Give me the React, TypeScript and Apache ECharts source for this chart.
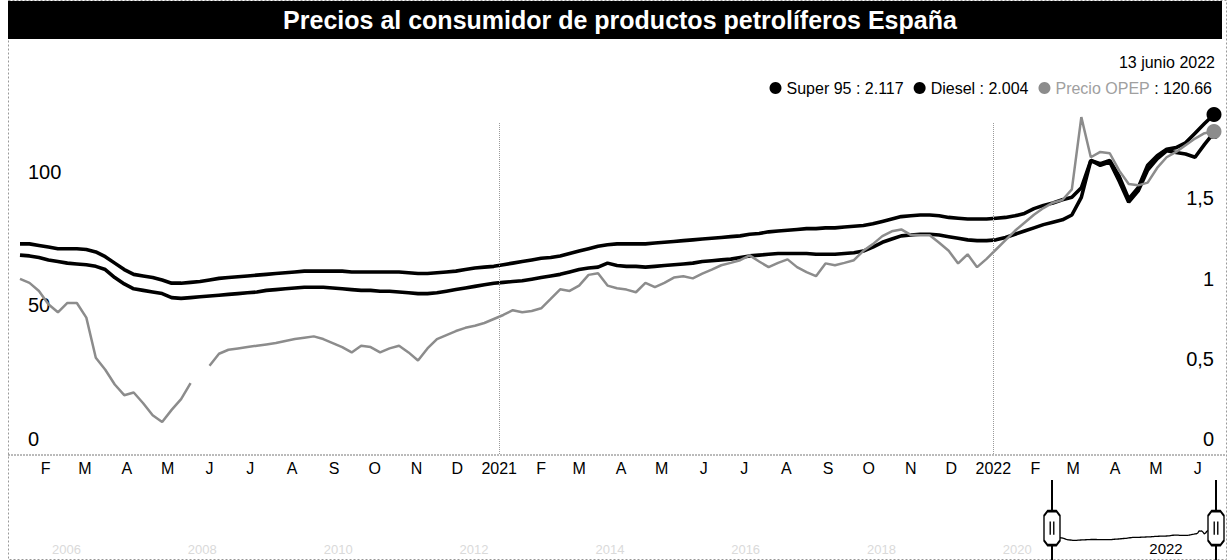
import React, { useEffect, useRef } from 'react';
import * as echarts from 'echarts';

// ---------- data ----------
const TITLE = 'Precios al consumidor de productos petrolíferos España';
const FIRST_WEEK = '2020-01-13'; // weekly observations (Mondays)
const NAVIGATOR_START = '2004-11-02';
const YEAR_MARKS = ['2021-01-01', '2022-01-01'];
const MONTH_INITIALS = ['E', 'F', 'M', 'A', 'M', 'J', 'J', 'A', 'S', 'O', 'N', 'D'];
const MESES = ['enero', 'febrero', 'marzo', 'abril', 'mayo', 'junio', 'julio', 'agosto', 'septiembre', 'octubre', 'noviembre', 'diciembre'];

const super95: number[] = [
  1.31, 1.31, 1.30, 1.29, 1.28, 1.28, 1.28, 1.275, 1.26, 1.23,
  1.19, 1.15, 1.12, 1.11, 1.10, 1.085, 1.065, 1.065, 1.07, 1.075,
  1.085, 1.095, 1.10, 1.105, 1.11, 1.115, 1.12, 1.125, 1.13, 1.135,
  1.14, 1.14, 1.14, 1.14, 1.14, 1.135, 1.135, 1.135, 1.135, 1.135,
  1.135, 1.13, 1.125, 1.125, 1.13, 1.135, 1.14, 1.15, 1.16, 1.165,
  1.17, 1.18, 1.19, 1.20, 1.21, 1.22, 1.225, 1.235, 1.25, 1.265,
  1.28, 1.295, 1.305, 1.31, 1.31, 1.31, 1.31, 1.315, 1.32, 1.325,
  1.33, 1.335, 1.34, 1.345, 1.35, 1.355, 1.36, 1.37, 1.375, 1.385,
  1.39, 1.395, 1.40, 1.405, 1.405, 1.41, 1.41, 1.415, 1.42, 1.425,
  1.435, 1.45, 1.465, 1.48, 1.485, 1.49, 1.49, 1.485, 1.475, 1.47,
  1.465, 1.465, 1.465, 1.47, 1.475, 1.485, 1.50, 1.53, 1.55, 1.565,
  1.585, 1.60, 1.66, 1.83, 1.81, 1.83, 1.73, 1.59, 1.66, 1.80,
  1.86, 1.90, 1.91, 1.94, 2.00, 2.06, 2.117,
];

const diesel: number[] = [
  1.24, 1.235, 1.225, 1.21, 1.20, 1.19, 1.185, 1.18, 1.17, 1.15,
  1.10, 1.06, 1.03, 1.02, 1.01, 1.00, 0.975, 0.97, 0.975, 0.98,
  0.985, 0.99, 0.995, 1.00, 1.005, 1.01, 1.02, 1.025, 1.03, 1.035,
  1.04, 1.04, 1.04, 1.035, 1.03, 1.025, 1.02, 1.02, 1.015, 1.015,
  1.01, 1.005, 1.00, 1.00, 1.005, 1.015, 1.025, 1.035, 1.045, 1.055,
  1.065, 1.07, 1.075, 1.08, 1.09, 1.10, 1.11, 1.12, 1.135, 1.15,
  1.16, 1.165, 1.19, 1.175, 1.17, 1.17, 1.165, 1.17, 1.175, 1.18,
  1.185, 1.19, 1.20, 1.205, 1.21, 1.215, 1.225, 1.235, 1.24, 1.245,
  1.25, 1.25, 1.25, 1.25, 1.245, 1.245, 1.245, 1.25, 1.255, 1.265,
  1.29, 1.32, 1.34, 1.36, 1.365, 1.37, 1.37, 1.365, 1.355, 1.345,
  1.335, 1.33, 1.33, 1.335, 1.35, 1.37, 1.39, 1.41, 1.43, 1.445,
  1.46, 1.49, 1.60, 1.83, 1.80, 1.82, 1.70, 1.57, 1.64, 1.77,
  1.84, 1.89, 1.88, 1.87, 1.85, 1.93, 2.004,
];

const opep: (number | null)[] = [
  65.5, 64, 61, 56, 53, 56.5, 56.5, 51, 36, 31.5,
  26, 22, 23, 19, 14.5, 12, 16.5, 20.5, 26.5, null,
  33, 37.5, 39, 39.5, 40, 40.5, 41, 41.5, 42.3, 43,
  43.5, 44, 43, 41.5, 40, 38, 40.5, 40, 38, 39.5,
  40.5, 38, 35, 39.5, 43, 44.5, 46, 47.2, 48, 49,
  50.5, 52, 53.8, 53, 53.5, 54.5, 58, 61.6, 61, 63,
  67, 67.6, 63, 62, 61.5, 60.5, 64, 62.4, 64, 66,
  66.5, 65.7, 67.5, 69, 70.6, 71.5, 72.5, 74.3, 72, 69.9,
  71.5, 72.8, 69.9, 68, 66.5, 71.3, 70.6, 71.5, 72.5, 76,
  78.5, 81.5, 83.3, 84, 82, 81.8, 81.8, 79, 76, 71.3,
  74.7, 69.9, 73, 76.5, 80, 83.5, 86.5, 89.5, 92, 94,
  95, 99, 126, 111, 113, 112.5, 106, 101, 100.5, 101.5,
  107, 111, 113, 115.5, 118, 120, 120.66,
];

const leftTicks = { min: 0, max: 150, interval: 50 };
const rightTicks = { min: 0, max: 2.5, interval: 0.5 };

// ---------- derived ----------
const DAY = 86400000;
const t0 = Date.parse(FIRST_WEEK + 'T00:00:00Z');
const weeks = super95.map((_, i) => t0 + i * 7 * DAY);
const last = weeks.length - 1;
const tEnd = weeks[last];
const navStart = Date.parse(NAVIGATOR_START + 'T00:00:00Z');
const endDate = new Date(tEnd);
const dateLabel = `${endDate.getUTCDate()} ${MESES[endDate.getUTCMonth()]} ${endDate.getUTCFullYear()}`;
const FONT = '"Liberation Sans", Arial, Helvetica, sans-serif';

const pairs = (vals: (number | null)[]) => weeks.map((t, i) => [t, vals[i]]);

const legendValues: Record<string, string> = {
  'Super 95': super95[last].toFixed(3),
  Diesel: diesel[last].toFixed(3),
  'Precio OPEP': (opep[last] as number).toFixed(2),
};

const HANDLE = 'path://M4,0 L14,0 L18,5 L18,31 L14,36 L4,36 L0,31 L0,5 Z M7,11 L7,25 M11,11 L11,25';

function buildOption(): any {
  return {
    animation: false,
    useUTC: true,
    textStyle: { fontFamily: FONT },
    legend: {
      right: 12,
      top: 75,
      icon: 'circle',
      itemWidth: 12,
      itemHeight: 12,
      itemGap: 10,
      selectedMode: false,
      data: ['Super 95', 'Diesel', 'Precio OPEP'],
      formatter: (name: string) =>
        name === 'Precio OPEP'
          ? `{g|${name}}{b| : ${legendValues[name]}}`
          : `{b|${name} : ${legendValues[name]}}`,
      textStyle: {
        fontSize: 16,
        color: '#000',
        fontFamily: FONT,
        rich: {
          g: { color: '#a0a0a0', fontSize: 16, fontFamily: FONT },
          b: { color: '#000', fontSize: 16, fontFamily: FONT },
        },
      },
    },
    grid: [
      { left: 20, right: 15, top: 53, bottom: 106 },
      { left: 20, right: 13, top: 480, bottom: 0 },
    ],
    xAxis: [
      {
        type: 'time',
        gridIndex: 0,
        min: t0,
        max: tEnd,
        minInterval: 28 * DAY,
        maxInterval: 31 * DAY,
        axisLine: { show: false },
        axisTick: { show: false },
        splitLine: { show: false },
        axisLabel: {
          color: '#000',
          fontSize: 16,
          fontFamily: FONT,
          margin: 6,
          hideOverlap: false,
          formatter: (v: number) => {
            const d = new Date(v);
            if (d.getUTCDate() !== 1 || d.getUTCHours() !== 0) return '';
            const m = d.getUTCMonth();
            return m === 0 ? String(d.getUTCFullYear()) : MONTH_INITIALS[m];
          },
        },
      },
      {
        type: 'time',
        gridIndex: 1,
        min: navStart,
        max: tEnd,
        minInterval: 730 * DAY,
        maxInterval: 731 * DAY,
        axisLine: { show: false },
        axisTick: { show: false },
        splitLine: { show: false },
        axisLabel: {
          inside: true,
          margin: 4,
          align: 'right',
          formatter: (v: number) => {
            const d = new Date(v);
            if (d.getUTCMonth() !== 0 || d.getUTCDate() !== 1) return '';
            const y = d.getUTCFullYear();
            return v >= t0 ? `{on|${y}}{sp2| }` : `{off|${y}}{sp| }`;
          },
          rich: {
            on: { color: '#000', fontSize: 15, fontFamily: FONT },
            off: { color: '#dadada', fontSize: 13, fontFamily: FONT },
            sp: { width: 18, fontSize: 13 },
            sp2: { width: 3, fontSize: 13 },
          },
        },
      },
    ],
    yAxis: [
      {
        type: 'value',
        gridIndex: 0,
        position: 'left',
        ...leftTicks,
        splitLine: { show: false },
        axisLine: { show: false },
        axisTick: { show: false },
        axisLabel: {
          inside: true,
          margin: 8,
          verticalAlign: 'bottom',
          formatter: (v: number) => (v >= 150 ? '' : `{l|${v}}`),
          rich: { l: { fontSize: 20, color: '#000', fontFamily: FONT, backgroundColor: '#fff', padding: [0, 4, 5, 0] } },
        },
      },
      {
        type: 'value',
        gridIndex: 0,
        position: 'right',
        ...rightTicks,
        splitLine: { show: false },
        axisLine: { show: false },
        axisTick: { show: false },
        axisLabel: {
          inside: true,
          margin: 0,
          verticalAlign: 'bottom',
          formatter: (v: number) => (v >= 2 ? '' : `{l|${String(v).replace('.', ',')}}`),
          rich: { l: { fontSize: 20, color: '#000', fontFamily: FONT, backgroundColor: '#fff', padding: [0, 0, 5, 4] } },
        },
      },
      { type: 'value', gridIndex: 1, min: -0.5, max: 5.9, show: false },
    ],
    series: [
      {
        name: 'Super 95',
        type: 'line',
        xAxisIndex: 0,
        yAxisIndex: 1,
        data: pairs(super95),
        showSymbol: false,
        lineStyle: { color: '#000', width: 3.6 },
        itemStyle: { color: '#000' },
        markPoint: {
          symbol: 'circle',
          symbolSize: 15,
          label: { show: false },
          itemStyle: { color: '#000' },
          data: [{ coord: [tEnd, super95[last]] }],
        },
        z: 3,
      },
      {
        name: 'Diesel',
        type: 'line',
        xAxisIndex: 0,
        yAxisIndex: 1,
        data: pairs(diesel),
        showSymbol: false,
        lineStyle: { color: '#000', width: 3.6 },
        itemStyle: { color: '#000' },
        markPoint: {
          symbol: 'circle',
          symbolSize: 13,
          label: { show: false },
          itemStyle: { color: '#000' },
          data: [{ coord: [tEnd, diesel[last]] }],
        },
        z: 3,
      },
      {
        name: 'Precio OPEP',
        type: 'line',
        xAxisIndex: 0,
        yAxisIndex: 0,
        data: pairs(opep),
        showSymbol: false,
        connectNulls: false,
        lineStyle: { color: '#8c8c8c', width: 2.5 },
        itemStyle: { color: '#8c8c8c' },
        markPoint: {
          symbol: 'circle',
          symbolSize: 15,
          label: { show: false },
          itemStyle: { color: '#8c8c8c' },
          data: [{ coord: [tEnd, opep[last]] }],
        },
        markLine: {
          silent: true,
          symbol: ['none', 'none'],
          label: { show: false },
          lineStyle: { color: '#9a9a9a', width: 1, type: 'dotted' },
          data: YEAR_MARKS.map((d) => {
            const t = Date.parse(d + 'T00:00:00Z');
            return [{ coord: [t, 0] }, { coord: [t, 124] }];
          }),
        },
        z: 4,
      },
      {
        type: 'line',
        xAxisIndex: 1,
        yAxisIndex: 2,
        data: pairs(super95),
        showSymbol: false,
        silent: true,
        lineStyle: { color: '#000', width: 1.3 },
        markLine: {
          silent: true,
          symbol: ['none', 'none'],
          label: { show: false },
          lineStyle: { color: '#000', width: 2, type: 'solid' },
          data: [{ xAxis: t0 }, { xAxis: tEnd }],
        },
        markPoint: {
          symbol: HANDLE,
          symbolSize: [16, 34],
          label: { show: false },
          itemStyle: { color: '#fff', borderColor: '#000', borderWidth: 2 },
          data: [{ coord: [t0, 2.05] }, { coord: [tEnd, 2.05] }],
        },
      },
    ],
    graphic: [
      {
        type: 'rect',
        silent: true,
        z: -1,
        shape: { x: 8.5, y: 0.5, width: 1218, height: 559 },
        style: { fill: 'none', stroke: '#999', lineWidth: 1, lineDash: [2, 2] },
      },
      {
        type: 'rect',
        silent: true,
        shape: { x: 8, y: 1, width: 1214, height: 38 },
        style: { fill: '#000' },
      },
      {
        type: 'text',
        silent: true,
        x: 620,
        y: 20,
        style: { text: TITLE, fill: '#fff', font: `bold 25px ${FONT}`, align: 'center', verticalAlign: 'middle' },
      },
      {
        type: 'text',
        silent: true,
        x: 1215,
        y: 62,
        style: { text: dateLabel, fill: '#000', font: `16px ${FONT}`, align: 'right', verticalAlign: 'middle' },
      },
      {
        type: 'line',
        silent: true,
        shape: { x1: 8, y1: 455, x2: 1226, y2: 455 },
        style: { stroke: '#777', lineWidth: 1, lineDash: [2, 1] },
      },
    ],
  };
}

export default function App() {
  const ref = useRef<HTMLDivElement>(null);
  useEffect(() => {
    if (!ref.current) return;
    const chart = echarts.init(ref.current, null, { renderer: 'svg' });
    chart.setOption(buildOption());
    return () => chart.dispose();
  }, []);
  return (
    <div
      ref={ref}
      style={{ position: 'absolute', left: 0, top: 0, width: 1229, height: 560, background: '#fff' }}
    />
  );
}
